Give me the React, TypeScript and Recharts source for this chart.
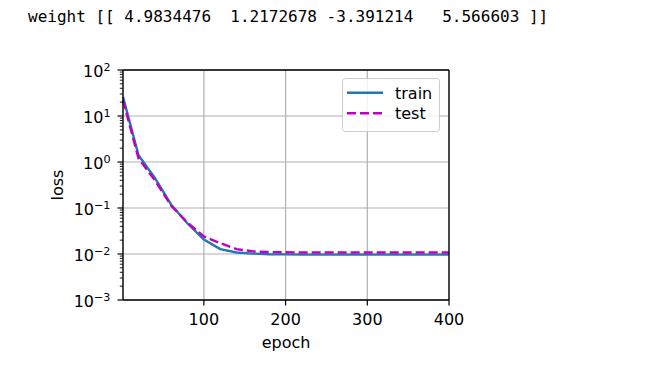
import { LineChart, Line, XAxis, YAxis, CartesianGrid, Legend } from 'recharts'

const FONT = 'DejaVu Sans'

const weightText = 'weight [[ 4.9834476  1.2172678 -3.391214   5.566603 ]]'

const seriesNames = ['train', 'test']
const epochs = [1, 20, 40, 60, 80, 100, 120, 140, 160, 180, 200, 220, 240, 260, 280, 300, 320, 340, 360, 380, 400]
const trainLoss = [26, 1.4, 0.45, 0.118, 0.046, 0.0205, 0.0128, 0.0108, 0.0102, 0.0099, 0.0098, 0.0097, 0.0097, 0.0097, 0.0097, 0.0097, 0.0097, 0.0097, 0.0097, 0.0097, 0.0097]
const testLoss = [22, 1.2, 0.4, 0.112, 0.048, 0.024, 0.0172, 0.0128, 0.0114, 0.011, 0.0109, 0.0108, 0.0108, 0.0108, 0.0108, 0.0108, 0.0108, 0.0108, 0.0108, 0.0108, 0.0108]

const xTicks = [100, 200, 300, 400]
const yDomain = [0.001, 100]
const yTicks = [0.001, 0.01, 0.1, 1, 10, 100]
const yMinorTicks = yTicks.slice(0, -1).flatMap(d => [2, 3, 4, 5, 6, 7, 8, 9].map(k => d * k))
const yAllTicks = [...yTicks, ...yMinorTicks].sort((a, b) => a - b)

const data = epochs.map((epoch, i) => ({ epoch, train: trainLoss[i], test: testLoss[i] }))

const isMajor = (v: number) => yTicks.some(t => Math.abs(t - v) / t < 1e-6)

// draws its own tick mark so minor ticks can be shorter than major ones
const LogTick = ({ x, y, payload }: any) => {
  const major = isMajor(payload.value)
  if (!major) {
    return <line x1={x - 3.2} x2={x} y1={y} y2={y} stroke="#000" strokeWidth={0.9} />
  }
  const exp = Math.round(Math.log10(payload.value))
  return (
    <g>
      <line x1={x - 5.5} x2={x} y1={y} y2={y} stroke="#000" strokeWidth={1.2} />
      <text x={x - 12.5} y={y + 6.5} textAnchor="end" fontSize={16} fontFamily={FONT} fill="#000">
        10
        <tspan dy={-6} fontSize={11.2}>{exp < 0 ? `\u2212${-exp}` : `${exp}`}</tspan>
      </text>
    </g>
  )
}

const LegendBox = ({ payload }: any) => {
  const items = [...(payload || [])].sort((a: any, b: any) => seriesNames.indexOf(a.value) - seriesNames.indexOf(b.value))
  return (
    <svg width={98} height={54} style={{ display: 'block' }}>
      <rect x={0.5} y={0.5} width={97} height={53} rx={3} fill="#fff" fillOpacity={0.8} stroke="#cccccc" />
      {items.map((p: any, i: number) => (
        <g key={p.value}>
          <line
            x1={5}
            x2={41}
            y1={14.7 + i * 20.5}
            y2={14.7 + i * 20.5}
            stroke={p.color}
            strokeWidth={2.4}
            strokeDasharray={p.payload?.strokeDasharray}
          />
          <text x={53} y={20.5 + i * 20.5} fontSize={16} fontFamily={FONT} fill="#000">
            {p.value}
          </text>
        </g>
      ))}
    </svg>
  )
}

// grid rows only at the decades, not at the minor ticks
const majorGridRows = ({ yAxis, offset }: any) => {
  if (yAxis && typeof yAxis.scale === 'function') return yTicks.map(v => yAxis.scale(v))
  const lo = Math.log10(yDomain[0])
  const hi = Math.log10(yDomain[1])
  return yTicks.map(v => offset.top + (offset.height * (hi - Math.log10(v))) / (hi - lo))
}

export default function App() {
  return (
    <div style={{ position: 'absolute', left: 0, top: 0, width: 651, height: 367, background: '#fff' }}>
      <svg width={651} height={40} style={{ position: 'absolute', left: 0, top: 0 }}>
        <text x={28} y={22} fontSize={16} fontFamily="DejaVu Sans Mono" fill="#000" style={{ whiteSpace: 'pre' }}>
          {weightText}
        </text>
      </svg>
      <div style={{ position: 'absolute', left: 0, top: 0 }}>
        <LineChart width={651} height={367} data={data} margin={{ top: 69, right: 201, bottom: 17, left: 63 }}>
          <CartesianGrid stroke="#b0b0b0" strokeWidth={1.2} horizontalCoordinatesGenerator={majorGridRows} />
          <XAxis
            dataKey="epoch"
            type="number"
            domain={[1, 400]}
            ticks={xTicks}
            interval={0}
            height={50}
            tickSize={5.5}
            tickMargin={8}
            stroke="#000"
            axisLine={{ stroke: '#000', strokeWidth: 1.3 }}
            tickLine={{ stroke: '#000', strokeWidth: 1.2 }}
            tick={{ fontSize: 16, fill: '#000', fontFamily: FONT }}
            label={{ value: 'epoch', position: 'insideBottom', offset: 2, fontSize: 16, fill: '#000', fontFamily: FONT }}
          />
          <XAxis
            xAxisId="top"
            orientation="top"
            dataKey="epoch"
            type="number"
            domain={[1, 400]}
            height={1}
            tick={false}
            tickLine={false}
            axisLine={{ stroke: '#000', strokeWidth: 1.3 }}
          />
          <YAxis
            scale="log"
            type="number"
            domain={yDomain}
            allowDataOverflow
            ticks={yAllTicks}
            interval={0}
            width={60}
            tickSize={0}
            tickMargin={0}
            tickLine={false}
            axisLine={{ stroke: '#000', strokeWidth: 1.3 }}
            tick={<LogTick />}
            label={{
              content: (props: any) => {
                const vb = props.viewBox || {}
                const cx = vb.x
                const cy = vb.y + vb.height / 2
                return (
                  <text x={cx} y={cy} transform={`rotate(-90 ${cx} ${cy})`} textAnchor="middle" fontSize={16} fontFamily={FONT} fill="#000">
                    loss
                  </text>
                )
              },
            }}
          />
          <YAxis
            yAxisId="right"
            orientation="right"
            scale="log"
            type="number"
            domain={yDomain}
            allowDataOverflow
            width={1}
            tick={false}
            tickLine={false}
            axisLine={{ stroke: '#000', strokeWidth: 1.3 }}
          />
          <Legend
            layout="vertical"
            align="center"
            verticalAlign="middle"
            content={<LegendBox />}
            wrapperStyle={{ left: 342, top: 78, width: 98, height: 54 }}
          />
          <Line
            dataKey="train"
            name="train"
            stroke="#1f77b4"
            strokeWidth={2.4}
            dot={false}
            type="linear"
            isAnimationActive={false}
          />
          <Line
            dataKey="test"
            name="test"
            stroke="#bf00bf"
            strokeWidth={2.4}
            strokeDasharray="9 4"
            dot={false}
            type="linear"
            isAnimationActive={false}
          />
        </LineChart>
      </div>
    </div>
  )
}
